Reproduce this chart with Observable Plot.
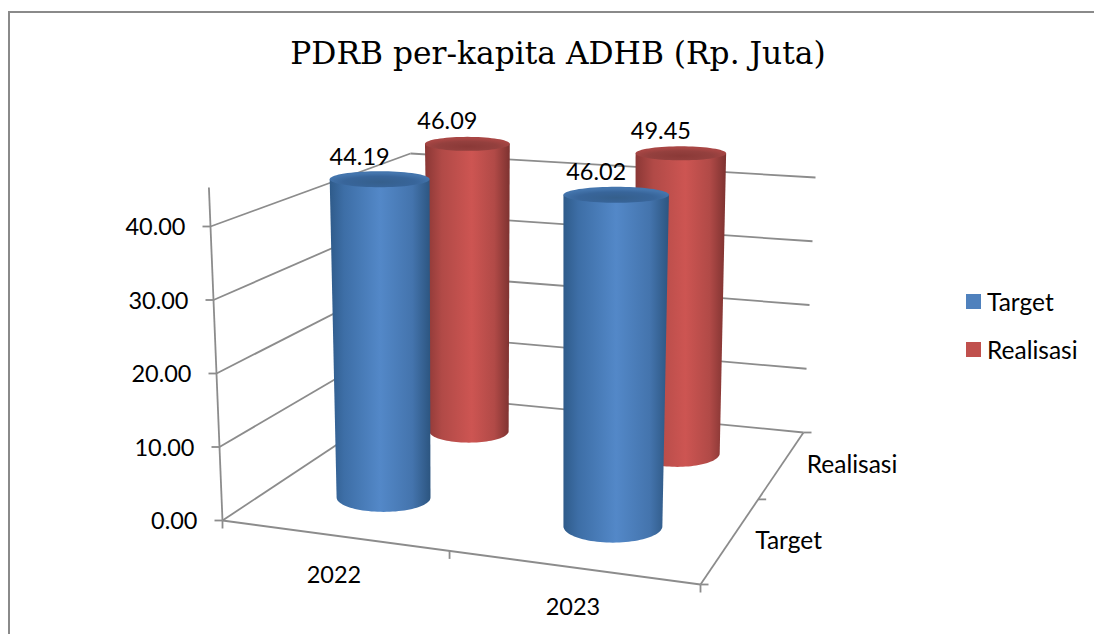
<!DOCTYPE html>
<html>
<head>
<meta charset="utf-8">
<script src="https://cdn.jsdelivr.net/npm/d3@7"></script>
<script src="https://cdn.jsdelivr.net/npm/@observablehq/plot@0.6"></script>
<style>
  html, body { margin: 0; padding: 0; background: #fff; overflow: hidden; }
  #page { position: relative; width: 1094px; height: 634px; overflow: hidden; }
  #frame { position: absolute; left: 8px; top: 11px; width: 1100px; height: 700px; border-left: 2px solid #8a8a8a; border-top: 2px solid #8a8a8a; }
  #title { position: absolute; left: 0; top: 35px; width: 1116px; text-align: center; font-family: "DejaVu Serif", serif; font-size: 31.3px; color: #000; white-space: nowrap; }
  .lg { position: absolute; left: 966px; font-family: Lato, sans-serif; font-size: 24.5px; color: #000; line-height: 24px; white-space: nowrap; }
  .lg i { position: absolute; left: 0; top: 4px; width: 15px; height: 15px; }
  .lg span { position: absolute; left: 21px; top: 0; }
  svg { position: absolute; left: 0; top: 0; }
</style>
</head>
<body>
<div id="page"><div id="frame"></div></div>
<script>
// ---- data ----
const titleText = "PDRB per-kapita ADHB (Rp. Juta)";
const years = ["2022", "2023"];
const seriesNames = ["Target", "Realisasi"];
const targetValues = [44.19, 46.02];
const realisasiValues = [46.09, 49.45];
const valueTicks = [0, 10, 20, 30, 40];
const valueAxisMax = 45.3;
const seriesColors = ["#4f81bd", "#c0504d"];

// ---- oblique 3D box: corners of the floor and of the level-40 plane ----
const refLevel = 40;
const floorCorners = {fl: [222, 520], fr: [700, 584], br: [803, 432], bl: [412, 394]};
const levelCorners = {fl: [210, 226], fr: [708, 284], br: [815, 177], bl: [410, 153]};
const yearTickFractions = [0, 0.475, 1];
const seriesTickFractions = [0, 0.56, 1];
const bilerp = (c, u, v, k) =>
  (c.fl[k] * (1 - u) + c.fr[k] * u) * (1 - v) + (c.bl[k] * (1 - u) + c.br[k] * u) * v;
function project(u, v, level) {
  const t = level / refLevel;
  return [0, 1].map(k => bilerp(floorCorners, u, v, k) * (1 - t) + bilerp(levelCorners, u, v, k) * t);
}

// ---- cylinders ----
function cylinder(i, j, value) {
  const u = (i + 0.5) / years.length, v = (j + 0.5) / seriesNames.length;
  const [bx0, by0] = project(u, v, 0);
  const bx = bx0 + u * v * 5.3 - (1 - u) * (1 - v) * 1.5, by = by0 - 6;
  const unit = 7.725 - 2.1 * v - (u - 0.5) * (v - 0.25) * 0.66;
  const tx = bx + (u - 0.5) * value * (0.33 - 0.24 * v) + u * v * 3 - (1 - u) * (1 - v) * 2;
  const ty = by - unit * value;
  const brx = 51.8 - 14.4 * v + (u - 0.5) * 5;
  const trx = brx * (1 + 0.065 * value / 45);
  const bry = 17 - 6 * v + (u - 0.5) * 4;
  const try_ = 8.5 - 2 * v;
  return {id: `${years[i]}-${seriesNames[j]}`, series: j, value, bx, by, tx, ty, brx, trx, bry, try_};
}
const cylinders = [
  ...realisasiValues.map((val, i) => cylinder(i, 1, val)),
  ...targetValues.map((val, i) => cylinder(i, 0, val))
];

const steps = d3.range(0, 49);
const bodyPts = c => [
  {x: c.tx - c.trx, y: c.ty},
  ...steps.map(s => {
    const a = Math.PI * (1 - s / 48);
    return {x: c.bx + c.brx * Math.cos(a), y: c.by + c.bry * Math.sin(a)};
  }),
  {x: c.tx + c.trx, y: c.ty}
];
const capPts = c => d3.range(0, 73).map(s => {
  const a = 2 * Math.PI * s / 72;
  return {x: c.tx + c.trx * Math.cos(a), y: c.ty + c.try_ * Math.sin(a)};
});

// ---- frame lines ----
const seg = (a, b) => ({x1: a[0], y1: a[1], x2: b[0], y2: b[1]});
const gridSegs = [
  ...valueTicks.map(t => seg(project(0, 0, t), project(0, 1, t))),
  ...valueTicks.map(t => seg(project(0, 1, t), project(1, 1, t))),
  seg(project(0, 0, 0), project(1, 0, 0)),
  seg(project(1, 0, 0), project(1, 1, 0)),
  seg(project(0, 0, 0), project(0, 0, valueAxisMax))
];
const offsetSeg = (p, dx, dy) => seg(p, [p[0] + dx, p[1] + dy]);
const tickSegs = [
  ...valueTicks.map(t => offsetSeg(project(0, 0, t), -8, 0)),
  ...yearTickFractions.map(f => offsetSeg(project(f, 0, 0), 0, 8)),
  ...seriesTickFractions.map(f => offsetSeg(project(1, f, 0), 8, 0))
];

// ---- labels ----
const valueLabels = valueTicks.map(t => {
  const p = project(0, 0, t);
  return {x: p[0], y: p[1], text: t.toFixed(2)};
});
const yearLabels = years.map((y, i) => {
  const p = project((i + 0.5) / years.length, 0, 0);
  return {x: p[0], y: p[1], text: y};
});
const depthLabels = seriesNames.map((s, j) => {
  const p = project(1, (j + 0.5) / seriesNames.length, 0);
  return {x: p[0], y: p[1], text: s};
});
const numFont = {fontFamily: "Lato, sans-serif", fontSize: 23.5, fill: "#000"};
const wordFont = {fontFamily: "Lato, sans-serif", fontSize: 24.5, fill: "#000"};

function defs() {
  const d = d3.create("svg:defs");
  const grad = (id, stops) => {
    const g = d.append("linearGradient").attr("id", id);
    stops.forEach(([o, c]) => g.append("stop").attr("offset", o).attr("stop-color", c));
  };
  const rad = (id, stops) => {
    const g = d.append("radialGradient").attr("id", id).attr("cx", "50%").attr("cy", "68%").attr("r", "55%");
    stops.forEach(([o, c]) => g.append("stop").attr("offset", o).attr("stop-color", c));
  };
  grad("body0", [["0%", "#2f5b8a"], ["14%", "#3d6ea6"], ["50%", "#5388c8"], ["82%", "#4474ad"], ["100%", "#2c5580"]]);
  grad("body1", [["0%", "#8a3735"], ["20%", "#b14a47"], ["55%", "#cd5552"], ["82%", "#b14a47"], ["100%", "#7d3230"]]);
  rad("cap0", [["0%", "#355f8c"], ["65%", "#38659a"], ["100%", "#4475ad"]]);
  rad("cap1", [["0%", "#8a3937"], ["65%", "#94403e"], ["100%", "#a84644"]]);
  return d.node();
}

const chart = Plot.plot({
  width: 1094,
  height: 634,
  margin: 0,
  style: {background: "transparent"},
  x: {domain: [0, 1094], range: [0, 1094], axis: null},
  y: {domain: [0, 634], range: [0, 634], axis: null},
  marks: [
    defs,
    Plot.link(gridSegs, {x1: "x1", y1: "y1", x2: "x2", y2: "y2", stroke: "#8c8c8c", strokeWidth: 1.8}),
    Plot.link(tickSegs, {x1: "x1", y1: "y1", x2: "x2", y2: "y2", stroke: "#8c8c8c", strokeWidth: 1.8}),
    ...cylinders.flatMap(c => [
      Plot.line(bodyPts(c), {x: "x", y: "y", stroke: "none", fill: `url(#body${c.series})`}),
      Plot.line(capPts(c), {x: "x", y: "y", stroke: "none", fill: `url(#cap${c.series})`})
    ]),
    Plot.text(valueLabels, {x: "x", y: "y", text: "text", textAnchor: "end", dx: -25, dy: 1, ...numFont}),
    Plot.text(yearLabels, {x: "x", y: "y", text: "text", dx: -8, dy: 39, ...numFont}),
    Plot.text(depthLabels, {x: "x", y: "y", text: "text", textAnchor: "start", dx: 29, dy: -5, ...wordFont}),
    Plot.text(cylinders, {x: "tx", y: "ty", text: d => d.value.toFixed(2), dx: -20, dy: -22, ...numFont})
  ]
});

const page = document.getElementById("page");
page.appendChild(chart);

const title = document.createElement("div");
title.id = "title";
title.textContent = titleText;
page.appendChild(title);

seriesNames.forEach((name, j) => {
  const el = document.createElement("div");
  el.className = "lg";
  el.style.top = (290 + j * 48) + "px";
  const sw = document.createElement("i");
  sw.style.background = seriesColors[j];
  const label = document.createElement("span");
  label.textContent = name;
  el.append(sw, label);
  page.appendChild(el);
});
</script>
</body>
</html>
